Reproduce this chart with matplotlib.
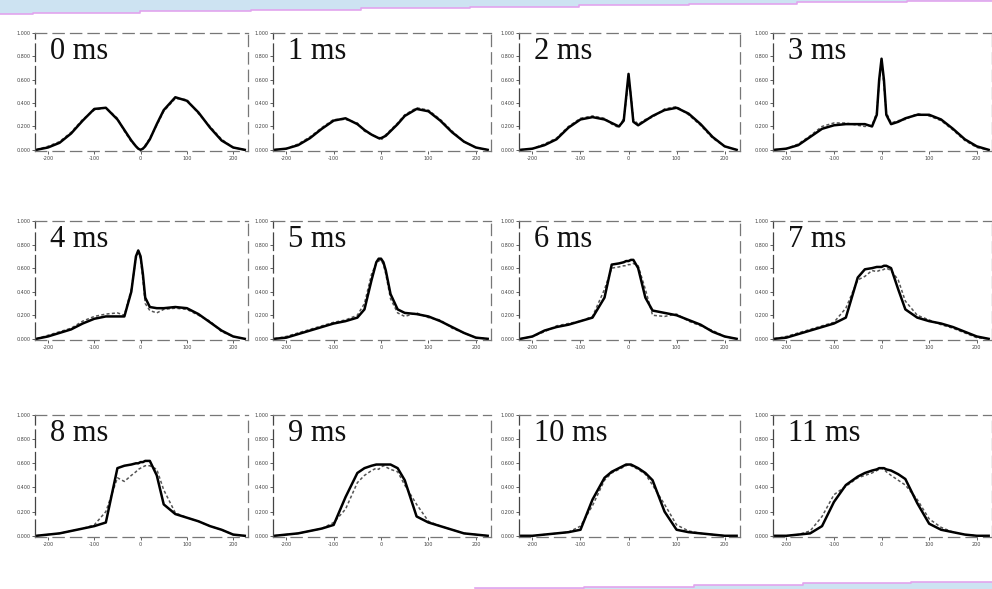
import matplotlib.pyplot as plt
from matplotlib.patches import Polygon

# -----------------------
# Data (y = fraction of panel height)
# -----------------------
x_pos = [-225, -200, -175, -150, -125, -100, -75, -50, -35, -20, -10, -5, 0,
         5, 10, 20, 35, 50, 75, 100, 125, 150, 175, 200, 225]

panel_labels = ["0 ms", "1 ms", "2 ms", "3 ms", "4 ms", "5 ms",
                "6 ms", "7 ms", "8 ms", "9 ms", "10 ms", "11 ms"]

theory_0ms = [0, 0.02, 0.06, 0.14, 0.25, 0.35, 0.36, 0.26, 0.17, 0.08, 0.03, 0.01, 0,
              0.01, 0.03, 0.09, 0.22, 0.34, 0.45, 0.42, 0.32, 0.19, 0.08, 0.02, 0]
measured_0ms = [0, 0.03, 0.07, 0.15, 0.26, 0.34, 0.36, 0.27, 0.16, 0.07, 0.03, 0.01, 0,
                0.01, 0.04, 0.10, 0.21, 0.33, 0.44, 0.43, 0.31, 0.20, 0.09, 0.02, 0]

theory_1ms = [0, 0.01, 0.04, 0.10, 0.18, 0.25, 0.27, 0.22, 0.17, 0.13, 0.11, 0.10, 0.10,
              0.11, 0.12, 0.16, 0.22, 0.29, 0.35, 0.33, 0.25, 0.15, 0.07, 0.02, 0]
measured_1ms = [0, 0.01, 0.05, 0.11, 0.19, 0.26, 0.26, 0.23, 0.16, 0.13, 0.11, 0.10, 0.08,
                0.11, 0.13, 0.17, 0.23, 0.30, 0.36, 0.34, 0.26, 0.16, 0.07, 0.02, 0]

theory_2ms = [0, 0.01, 0.04, 0.09, 0.19, 0.26, 0.28, 0.26, 0.23, 0.20, 0.25, 0.45, 0.65,
              0.45, 0.24, 0.21, 0.25, 0.29, 0.34, 0.36, 0.31, 0.22, 0.11, 0.03, 0]
measured_2ms = [0, 0.01, 0.05, 0.10, 0.20, 0.27, 0.29, 0.27, 0.22, 0.19, 0.27, 0.42, 0.62,
                0.47, 0.26, 0.22, 0.26, 0.28, 0.35, 0.37, 0.30, 0.21, 0.10, 0.03, 0]

theory_3ms = [0, 0.01, 0.04, 0.11, 0.18, 0.21, 0.22, 0.22, 0.22, 0.20, 0.30, 0.60, 0.78,
              0.60, 0.30, 0.22, 0.24, 0.27, 0.30, 0.30, 0.26, 0.18, 0.09, 0.03, 0]
measured_3ms = [0, 0.01, 0.05, 0.12, 0.20, 0.23, 0.23, 0.21, 0.20, 0.21, 0.32, 0.58, 0.76,
                0.55, 0.32, 0.23, 0.25, 0.26, 0.31, 0.29, 0.25, 0.17, 0.08, 0.02, 0]

theory_4ms = [0, 0.02, 0.05, 0.08, 0.13, 0.17, 0.19, 0.19, 0.19, 0.40, 0.70, 0.75, 0.70,
              0.55, 0.35, 0.27, 0.26, 0.26, 0.27, 0.26, 0.21, 0.14, 0.07, 0.02, 0]
measured_4ms = [0, 0.03, 0.06, 0.09, 0.15, 0.19, 0.21, 0.22, 0.20, 0.42, 0.68, 0.73, 0.68,
                0.50, 0.30, 0.24, 0.22, 0.25, 0.26, 0.25, 0.20, 0.15, 0.06, 0.02, 0]

theory_5ms = [0, 0.01, 0.04, 0.07, 0.10, 0.13, 0.15, 0.18, 0.25, 0.50, 0.65, 0.68, 0.68,
              0.65, 0.58, 0.38, 0.25, 0.22, 0.21, 0.19, 0.15, 0.10, 0.05, 0.01, 0]
measured_5ms = [0, 0.02, 0.05, 0.08, 0.11, 0.14, 0.16, 0.20, 0.30, 0.55, 0.64, 0.66, 0.67,
                0.63, 0.55, 0.34, 0.22, 0.19, 0.22, 0.18, 0.16, 0.09, 0.05, 0.01, 0]

theory_6ms = [0, 0.02, 0.07, 0.10, 0.12, 0.15, 0.18, 0.35, 0.63, 0.64, 0.65, 0.66, 0.66,
              0.67, 0.67, 0.60, 0.35, 0.24, 0.22, 0.20, 0.16, 0.12, 0.06, 0.02, 0]
measured_6ms = [0, 0.02, 0.06, 0.11, 0.13, 0.15, 0.19, 0.42, 0.60, 0.61, 0.62, 0.62, 0.63,
                0.63, 0.64, 0.62, 0.42, 0.20, 0.19, 0.21, 0.15, 0.11, 0.07, 0.02, 0]

theory_7ms = [0, 0.01, 0.04, 0.07, 0.10, 0.13, 0.18, 0.52, 0.59, 0.60, 0.61, 0.61, 0.61,
              0.62, 0.62, 0.60, 0.42, 0.25, 0.18, 0.15, 0.13, 0.10, 0.06, 0.02, 0]
measured_7ms = [0, 0.02, 0.05, 0.08, 0.11, 0.14, 0.26, 0.50, 0.53, 0.58, 0.57, 0.58, 0.58,
                0.59, 0.60, 0.58, 0.50, 0.32, 0.20, 0.16, 0.12, 0.09, 0.05, 0.01, 0]

theory_8ms = [0, 0.01, 0.02, 0.04, 0.06, 0.08, 0.11, 0.56, 0.58, 0.59, 0.60, 0.60, 0.61,
              0.61, 0.62, 0.62, 0.50, 0.26, 0.18, 0.15, 0.12, 0.08, 0.05, 0.01, 0]
measured_8ms = [0, 0.01, 0.02, 0.04, 0.06, 0.09, 0.20, 0.48, 0.45, 0.50, 0.53, 0.55, 0.56,
                0.57, 0.58, 0.58, 0.55, 0.38, 0.19, 0.15, 0.12, 0.08, 0.05, 0.01, 0]

theory_9ms = [0, 0.01, 0.02, 0.04, 0.06, 0.09, 0.32, 0.52, 0.56, 0.58, 0.59, 0.59, 0.59,
              0.59, 0.59, 0.59, 0.56, 0.46, 0.16, 0.11, 0.08, 0.05, 0.02, 0.01, 0]
measured_9ms = [0, 0.01, 0.02, 0.04, 0.06, 0.11, 0.22, 0.44, 0.50, 0.54, 0.56, 0.55, 0.57,
                0.58, 0.57, 0.55, 0.53, 0.42, 0.26, 0.12, 0.08, 0.05, 0.02, 0.01, 0]

theory_10ms = [0, 0, 0.01, 0.02, 0.03, 0.05, 0.30, 0.48, 0.53, 0.56, 0.58, 0.59, 0.59,
               0.59, 0.58, 0.56, 0.52, 0.46, 0.20, 0.05, 0.03, 0.02, 0.01, 0, 0]
measured_10ms = [0, 0, 0.01, 0.02, 0.03, 0.08, 0.25, 0.46, 0.52, 0.55, 0.57, 0.58, 0.59,
                 0.58, 0.57, 0.55, 0.51, 0.42, 0.26, 0.09, 0.04, 0.02, 0.01, 0, 0]

theory_11ms = [0, 0, 0.01, 0.02, 0.08, 0.28, 0.42, 0.49, 0.52, 0.54, 0.55, 0.56, 0.56,
               0.56, 0.55, 0.54, 0.51, 0.47, 0.27, 0.10, 0.05, 0.03, 0.01, 0, 0]
measured_11ms = [0, 0, 0.01, 0.04, 0.16, 0.34, 0.41, 0.48, 0.50, 0.52, 0.54, 0.55, 0.56,
                 0.55, 0.53, 0.50, 0.46, 0.42, 0.30, 0.14, 0.07, 0.03, 0.01, 0, 0]

theory = [theory_0ms, theory_1ms, theory_2ms, theory_3ms, theory_4ms, theory_5ms,
          theory_6ms, theory_7ms, theory_8ms, theory_9ms, theory_10ms, theory_11ms]
measured = [measured_0ms, measured_1ms, measured_2ms, measured_3ms, measured_4ms, measured_5ms,
            measured_6ms, measured_7ms, measured_8ms, measured_9ms, measured_10ms, measured_11ms]

x_ticks = [-200, -100, 0, 100, 200]
y_ticks = [0, 0.2, 0.4, 0.6, 0.8, 1.0]
y_tick_labels = ["0.000", "0.200", "0.400", "0.600", "0.800", "1.000"]

# -----------------------
# Layout (pixels of the 992x589 picture)
# -----------------------
W, H = 992, 589
col_left = [35, 273, 519, 773]
col_width = [213, 218, 221, 219]
row_top = [33, 221, 415]
row_bottom = [151, 340, 537]

fig = plt.figure(figsize=(W / 100, H / 100), dpi=100)

# slide decoration: light blue bands with stepped pink edge
bg = fig.add_axes([0, 0, 1, 1], zorder=-5)
bg.set_xlim(0, W)
bg.set_ylim(H, 0)
bg.axis("off")
top_x = [0, 33, 140, 251, 361, 470, 579, 689, 797, 907, 992]
top_y = [14, 12.5, 11, 9.5, 8, 6.5, 5, 3.5, 2, 0.5]
edge = []
for i, yv in enumerate(top_y):
    edge += [(top_x[i], yv), (top_x[i + 1], yv)]
bg.add_patch(Polygon([(0, 0), (W, 0)] + edge[::-1], closed=True,
                     facecolor="#cde3f2", edgecolor="none"))
bg.plot([p[0] for p in edge], [p[1] for p in edge], color="#e2a4ee", lw=1.2)

bot_x = [475, 584, 694, 803, 911, 992]
bot_y = [588.3, 586.7, 585, 583.3, 582.3]
edge = []
for i, yv in enumerate(bot_y):
    edge += [(bot_x[i], yv), (bot_x[i + 1], yv)]
bg.add_patch(Polygon(edge + [(W, H), (475, H)], closed=True,
                     facecolor="#cde3f2", edgecolor="none"))
bg.plot([p[0] for p in edge], [p[1] for p in edge], color="#e2a4ee", lw=1.2)

for k in range(12):
    r, c = divmod(k, 4)
    left = col_left[c] / W
    bottom = 1 - row_bottom[r] / H
    width = col_width[c] / W
    height = (row_bottom[r] - row_top[r]) / H
    ax = fig.add_axes([left, bottom, width, height])

    ax.plot(x_pos, measured[k], color="#555555", lw=1.1, linestyle=(0, (2, 1.5)))
    ax.plot(x_pos, theory[k], color="black", lw=1.8, solid_joinstyle="round")

    ax.set_xlim(-228, 232)
    ax.set_ylim(-0.01, 1.0)
    ax.set_xticks(x_ticks)
    ax.set_xticklabels([str(t) for t in x_ticks])
    ax.set_yticks(y_ticks)
    ax.set_yticklabels(y_tick_labels)
    ax.tick_params(labelsize=3.5, length=2, width=0.6, pad=1.5, colors="#444444")

    for side in ["top", "right", "bottom"]:
        ax.spines[side].set_linestyle((0, (9, 5)))
        ax.spines[side].set_color("#777777")
        ax.spines[side].set_linewidth(0.9)
    ax.spines["left"].set_linestyle((0, (14, 4)))
    ax.spines["left"].set_color("#444444")
    ax.spines["left"].set_linewidth(0.9)

    ax.text(0.07, 0.97, panel_labels[k], transform=ax.transAxes, ha="left", va="top",
            fontsize=22, family="Liberation Serif", color="#111111")

fig.savefig("out.png", dpi=100)
